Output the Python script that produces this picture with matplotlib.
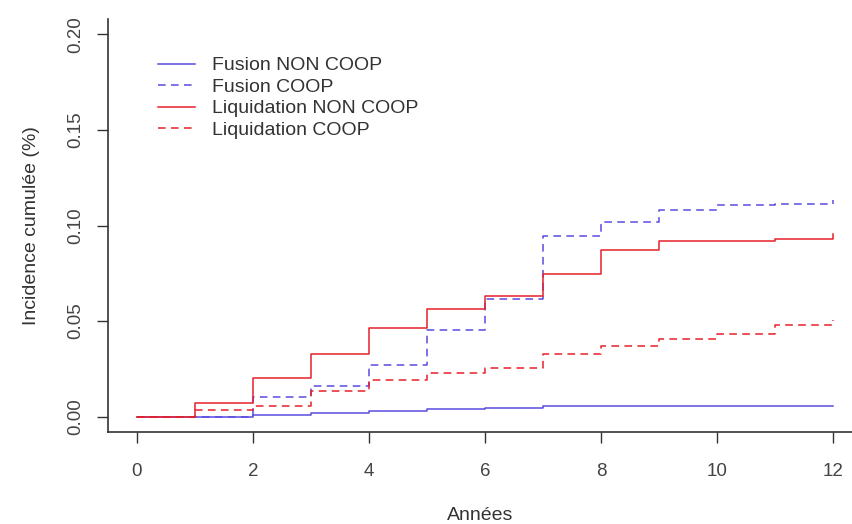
import matplotlib
matplotlib.use('Agg')
import matplotlib.pyplot as plt

plt.rcParams['font.family']=['Liberation Sans','DejaVu Sans']

annees=[0,1,2,3,4,5,6,7,8,9,10,11,12]
fusion_non_coop=[0,0,0.0011,0.0019,0.0031,0.0038,0.0045,0.0054,0.0058,0.0058,0.0058,0.0058,0.0058]
fusion_coop=[0,0,0.0101,0.0159,0.027,0.0454,0.0617,0.0944,0.1016,0.108,0.1109,0.1115,0.1135]
liquidation_non_coop=[0,0.007,0.020,0.0328,0.0466,0.0564,0.063,0.0744,0.087,0.0917,0.092,0.0929,0.0953]
liquidation_coop=[0,0.0037,0.0056,0.0133,0.0192,0.0229,0.0253,0.033,0.0368,0.0409,0.0433,0.048,0.0506]
labels=['Fusion NON COOP','Fusion COOP','Liquidation NON COOP','Liquidation COOP']
xticks=[0,2,4,6,8,10,12]
yticks=[0.00,0.05,0.10,0.15,0.20]

bleu='#5a4ce0'
rouge='#e5202a'

W,H=852,524
fig=plt.figure(figsize=(W/100,H/100),dpi=100)
ax=fig.add_axes([108/W,(H-432)/H,(W-108)/W,(432-19)/H])

ax.plot(annees,fusion_non_coop,drawstyle='steps-post',color=bleu,lw=1.1,label=labels[0])
ax.plot(annees,fusion_coop,drawstyle='steps-post',color=bleu,lw=1.1,dashes=(5,3.5),label=labels[1])
ax.plot(annees,liquidation_non_coop,drawstyle='steps-post',color=rouge,lw=1.1,label=labels[2])
ax.plot(annees,liquidation_coop,drawstyle='steps-post',color=rouge,lw=1.1,dashes=(5,3.5),label=labels[3])

ax.set_xlim(-0.5,12.33)
ax.set_ylim(-0.008,0.208)
ax.set_xticks(xticks)
ax.set_yticks(yticks)
ax.set_yticklabels(['%.2f'%v for v in yticks],rotation=90,va='center')
ax.tick_params(colors='#333333',labelcolor='#444444',labelsize=13.5,length=8,width=1)
ax.tick_params(axis='x',pad=14)
ax.tick_params(axis='y',pad=9)
for s in ['top','right']:
    ax.spines[s].set_visible(False)
for s in ['left','bottom']:
    ax.spines[s].set_color('#333333')
    ax.spines[s].set_linewidth(1.2)

ax.set_xlabel('Années',fontsize=14,color='#333333',labelpad=20)
ax.set_ylabel('Incidence cumulée (%)',fontsize=14,color='#333333',labelpad=20)

leg=ax.legend(loc='upper left',bbox_to_anchor=(150/W,1-49/H),bbox_transform=fig.transFigure,
              frameon=False,fontsize=14,handlelength=1.9,handletextpad=0.9,labelspacing=0.2,borderaxespad=0)
for t in leg.get_texts():
    t.set_color('#333333')

fig.savefig('out.png',dpi=100)
